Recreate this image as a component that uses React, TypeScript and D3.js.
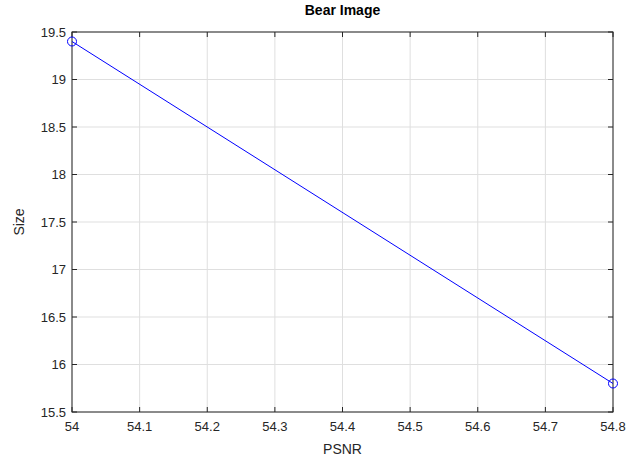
import { useEffect, useRef } from 'react';
import * as d3 from 'd3';

const psnr = [54, 54.8];
const size = [19.4, 15.8];
const xTicks = [54, 54.1, 54.2, 54.3, 54.4, 54.5, 54.6, 54.7, 54.8];
const yTicks = [15.5, 16, 16.5, 17, 17.5, 18, 18.5, 19, 19.5];

const W = 629;
const H = 462;
const M = { left: 72, right: 16, top: 32, bottom: 50 };

export default function App() {
  const ref = useRef<SVGSVGElement>(null);

  useEffect(() => {
    const svg = d3.select(ref.current);
    svg.selectAll('*').remove();

    const x = d3.scaleLinear().domain([54, 54.8]).range([M.left, W - M.right]);
    const y = d3.scaleLinear().domain([15.5, 19.5]).range([H - M.bottom, M.top]);
    const font = 'Liberation Sans, Arial, sans-serif';
    const axisColor = '#262626';

    svg.append('rect').attr('width', W).attr('height', H).attr('fill', '#fff');

    const g = svg.append('g');

    // grid
    g.selectAll('.gx')
      .data(xTicks)
      .join('line')
      .attr('x1', (d) => x(d))
      .attr('x2', (d) => x(d))
      .attr('y1', y(15.5))
      .attr('y2', y(19.5))
      .attr('stroke', '#dfdfdf')
      .attr('stroke-width', 1);
    g.selectAll('.gy')
      .data(yTicks)
      .join('line')
      .attr('y1', (d) => y(d))
      .attr('y2', (d) => y(d))
      .attr('x1', x(54))
      .attr('x2', x(54.8))
      .attr('stroke', '#dfdfdf')
      .attr('stroke-width', 1);

    // box
    g.append('rect')
      .attr('x', x(54))
      .attr('y', y(19.5))
      .attr('width', x(54.8) - x(54))
      .attr('height', y(15.5) - y(19.5))
      .attr('fill', 'none')
      .attr('stroke', axisColor)
      .attr('stroke-width', 1);

    const tl = 5;
    xTicks.forEach((t) => {
      g.append('line').attr('x1', x(t)).attr('x2', x(t)).attr('y1', y(15.5)).attr('y2', y(15.5) - tl).attr('stroke', axisColor);
      g.append('line').attr('x1', x(t)).attr('x2', x(t)).attr('y1', y(19.5)).attr('y2', y(19.5) + tl).attr('stroke', axisColor);
      g.append('text')
        .attr('x', x(t))
        .attr('y', y(15.5) + 19)
        .attr('text-anchor', 'middle')
        .attr('font-family', font)
        .attr('font-size', 13)
        .attr('fill', axisColor)
        .text(String(t));
    });
    yTicks.forEach((t) => {
      g.append('line').attr('x1', x(54)).attr('x2', x(54) + tl).attr('y1', y(t)).attr('y2', y(t)).attr('stroke', axisColor);
      g.append('line').attr('x1', x(54.8)).attr('x2', x(54.8) - tl).attr('y1', y(t)).attr('y2', y(t)).attr('stroke', axisColor);
      g.append('text')
        .attr('x', x(54) - 6)
        .attr('y', y(t) + 4.5)
        .attr('text-anchor', 'end')
        .attr('font-family', font)
        .attr('font-size', 13)
        .attr('fill', axisColor)
        .text(String(t));
    });

    // data line
    const pts = psnr.map((p, i) => [p, size[i]] as [number, number]);
    const line = d3
      .line<[number, number]>()
      .x((d) => x(d[0]))
      .y((d) => y(d[1]));
    g.append('path').attr('d', line(pts) || '').attr('fill', 'none').attr('stroke', '#0000ff').attr('stroke-width', 1);
    g.selectAll('.pt')
      .data(pts)
      .join('circle')
      .attr('cx', (d) => x(d[0]))
      .attr('cy', (d) => y(d[1]))
      .attr('r', 4.5)
      .attr('fill', 'none')
      .attr('stroke', '#0000ff')
      .attr('stroke-width', 1);

    // labels
    g.append('text')
      .attr('x', (x(54) + x(54.8)) / 2)
      .attr('y', 15)
      .attr('text-anchor', 'middle')
      .attr('font-family', font)
      .attr('font-size', 14)
      .attr('font-weight', 'bold')
      .attr('fill', '#000')
      .text('Bear Image');
    g.append('text')
      .attr('x', (x(54) + x(54.8)) / 2)
      .attr('y', 454)
      .attr('text-anchor', 'middle')
      .attr('font-family', font)
      .attr('font-size', 14)
      .attr('fill', axisColor)
      .text('PSNR');
    g.append('text')
      .attr('transform', `translate(24, ${(y(15.5) + y(19.5)) / 2}) rotate(-90)`)
      .attr('text-anchor', 'middle')
      .attr('font-family', font)
      .attr('font-size', 14)
      .attr('fill', axisColor)
      .text('Size');
  }, []);

  return (
    <svg
      ref={ref}
      width={W}
      height={H}
      style={{ position: 'absolute', left: 0, top: 0, display: 'block' }}
    />
  );
}
